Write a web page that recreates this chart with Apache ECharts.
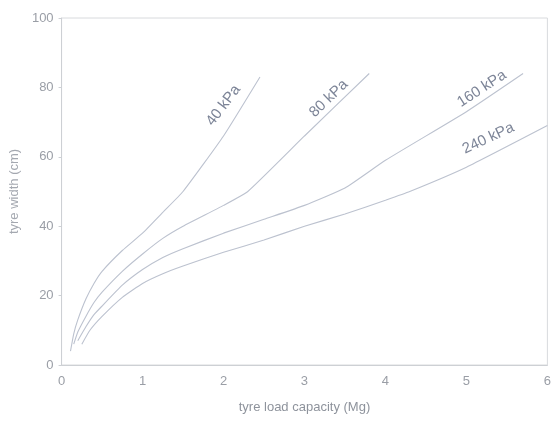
<!DOCTYPE html>
<html><head><meta charset="utf-8">
<script src="https://cdn.jsdelivr.net/npm/echarts@6/dist/echarts.min.js"></script>
<style>html,body{margin:0;padding:0;background:#fff}#c{width:554px;height:423px}</style>
</head><body><div id="c"></div>
<script>
const xTicks = [0,1,2,3,4,5,6];
const yTicks = [0,20,40,60,80,100];
const seriesNames = ['40 kPa','80 kPa','160 kPa','240 kPa'];
const kpa40  = [[0.11,4],[0.15,9],[0.2,13],[0.3,19],[0.4,23.5],[0.5,27],[0.75,33],[1.0,38],[1.25,44],[1.5,50],[2.0,66],[2.45,83]];
const kpa80  = [[0.15,6],[0.2,9.5],[0.3,14],[0.4,18],[0.5,21],[0.75,27],[1.0,32],[1.25,36.5],[1.5,40],[2.0,46],[2.3,50],[3.0,66],[3.8,84]];
const kpa160 = [[0.2,7],[0.3,11],[0.4,14.5],[0.5,17],[0.75,23],[1.0,27.5],[1.25,31],[1.5,33.5],[2.0,38],[2.5,42],[3.0,46],[3.5,51],[4.0,59],[5.0,73],[5.7,84]];
const kpa240 = [[0.25,6],[0.35,10],[0.5,14],[0.75,19.5],[1.0,23.5],[1.25,26.3],[1.5,28.5],[2.0,32.5],[2.5,36],[3.0,40],[3.5,43.5],[4.0,47.5],[4.3,50],[5.0,57],[6.0,69]];
const labelPos = [[2.0,74.8],[3.3,76.8],[5.19,79.6],[5.27,65.3]];
const labelRot = [53,44,33,25];

const allData = [kpa40,kpa80,kpa160,kpa240];
const chart = echarts.init(document.getElementById('c'));
const lineColor = '#bcc2cf';
const series = allData.map((d,i)=>({
  name: seriesNames[i], type:'line', data:d, showSymbol:false, smooth:0.15,
  lineStyle:{color:lineColor,width:1.1},
  markPoint:{symbol:'circle', symbolSize:1, itemStyle:{color:'rgba(0,0,0,0)'},
    data:[{coord:labelPos[i], value:seriesNames[i]}],
    label:{show:true, formatter:seriesNames[i], rotate:labelRot[i], color:'#7c8497',
      fontFamily:'Liberation Sans', fontSize:15, position:'inside'}}
}));
chart.setOption({
  animation:false,
  grid:{left:61,right:5,top:18,bottom:58,show:true,borderColor:'#d8dadd',borderWidth:1},
  xAxis:{type:'value',min:0,max:6,interval:1,
    name:'tyre load capacity (Mg)',nameLocation:'middle',nameGap:36,
    nameTextStyle:{color:'#8e939c',fontSize:13,fontFamily:'Liberation Sans'},
    axisLine:{lineStyle:{color:'#cdd0d4'}},axisTick:{show:false},
    axisLabel:{color:'#9a9ea6',fontSize:13,margin:10,fontFamily:'Liberation Sans',formatter:v=>String(v)},
    splitLine:{show:false}},
  yAxis:{type:'value',min:0,max:100,interval:20,
    name:'tyre width (cm)',nameLocation:'middle',nameGap:40,
    nameTextStyle:{color:'#a4a8b0',fontSize:13,fontFamily:'Liberation Sans'},
    axisLine:{show:true,lineStyle:{color:'#cdd0d4'}},axisTick:{show:true,length:3,inside:false,lineStyle:{color:'#cdd0d4'}},
    axisLabel:{color:'#9a9ea6',fontSize:13,margin:8,fontFamily:'Liberation Sans'},
    splitLine:{show:false}},
  series
});
</script></body></html>
